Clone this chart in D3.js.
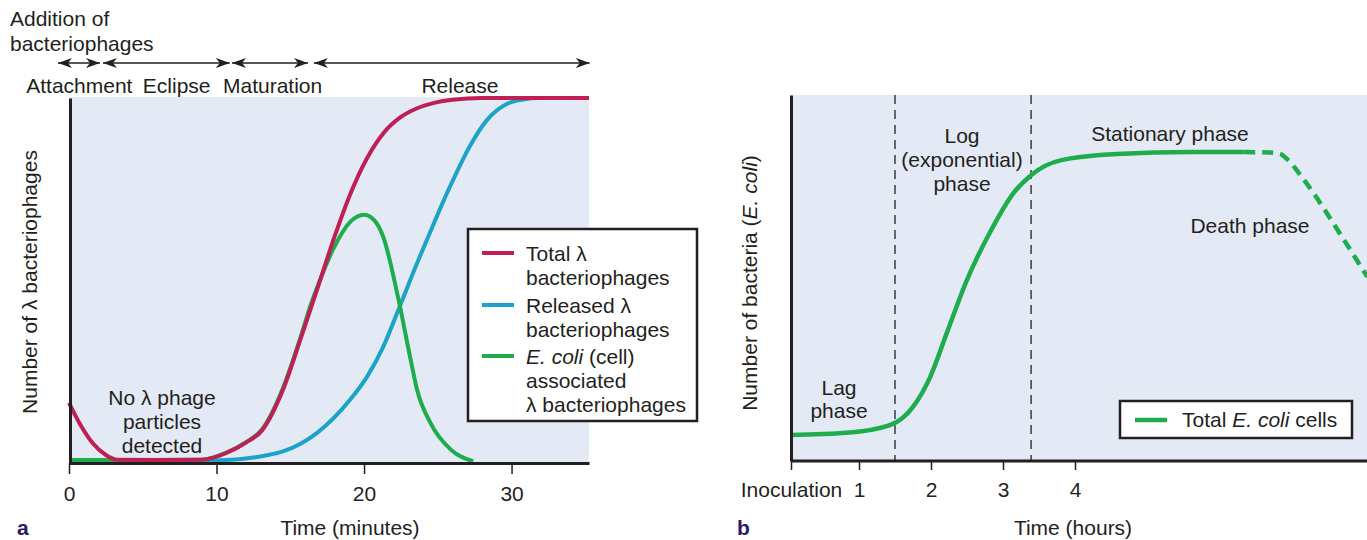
<!DOCTYPE html>
<html><head><meta charset="utf-8">
<script src="https://cdn.jsdelivr.net/npm/d3@7"></script>
<style>
body{margin:0;background:#fff;}
svg{display:block;font-family:"Liberation Sans",Arial,Helvetica,sans-serif;}
</style>
</head><body>
<svg id="c" width="1367" height="540"></svg>
<script>
// ---------- Panel a data ----------
const ticksA = [0, 10, 20, 30];
const phaseNames = ["Attachment", "Eclipse", "Maturation", "Release"];
const phaseStart = [-0.75, 2.3, 11.05, 16.6];
const phaseEnd = [2.1, 10.9, 16.2, 35.3];
const phaseLabelAt = [0.7, 7.3, 13.8, 26.5];

const totalT = [0, 0.8, 1.6, 2.5, 3.3, 6, 9, 10.7, 12, 13.1, 14.5, 15.7, 16.8, 18, 19.05, 20.2, 21.3, 22.5, 23.6, 24.7, 26, 28, 35.25];
const totalV = [16.5, 10.3, 5.5, 2.2, 0.9, 0.8, 0.9, 2.8, 5.6, 9.0, 20, 34, 47.3, 62, 73.5, 83.5, 90.3, 94.8, 97.2, 98.6, 99.5, 100, 100];

const assocT = [0, 3, 9, 10.7, 12, 13.1, 14.5, 15.7, 16.4, 17.2, 17.9, 19.05, 20.0, 20.7, 21.3, 22.3, 23.2, 23.6, 24.5, 25.9, 27.4];
const assocV = [0.8, 0.8, 0.9, 2.9, 5.7, 9.3, 20.5, 34.5, 43.5, 52, 58.5, 66, 68, 66.5, 62, 45.5, 27.5, 20, 11, 3.6, 0.5];

const releasedT = [0, 9, 10, 11.5, 12.5, 13.5, 14.5, 15.7, 16.8, 19.05, 20.2, 21.3, 22.4, 23.6, 24.3, 25.8, 27.2, 28.3, 29.7, 30.8, 31.8, 35.25];
const releasedV = [0.6, 0.6, 0.7, 1.0, 1.5, 2.2, 3.2, 5.3, 8.2, 17.3, 23.6, 31.8, 42.7, 54.8, 61.5, 75.5, 87, 93.8, 98.4, 99.6, 100, 100];

// ---------- Panel b data ----------
const ticksB = [0, 1, 2, 3, 4];
const tickLabelsB = ["Inoculation", "1", "2", "3", "4"];
const phaseLinesB = [1.5, 3.39];
const growthT = [0, 0.82, 1.43, 1.75, 1.99, 2.22, 2.5, 2.82, 3.13, 3.39, 3.81, 4.58, 5.62, 6.35];
const growthV = [7.1, 7.7, 9.8, 14.8, 23, 35, 49.5, 62.5, 72.8, 78.1, 82.2, 83.9, 84.4, 84.4];
const deathT = [6.35, 6.71, 6.85, 6.94, 7.18, 7.71, 8.06];
const deathV = [84.4, 84.3, 83.9, 82.6, 76.8, 61.2, 50.3];

// ---------- styles ----------
const INK = "#231f20";
const BG = "#e4eaf5";
const RED = "#c01f55";
const BLUE = "#1ba3c9";
const GREEN = "#1fac4d";
const FS = 21;

const svg = d3.select("#c");

// arrow marker
const defs = svg.append("defs");
function marker(id, orient) {
  defs.append("marker").attr("id", id).attr("viewBox", "0 0 14 10")
    .attr("refX", 14).attr("refY", 5).attr("markerWidth", 14).attr("markerHeight", 10)
    .attr("markerUnits", "userSpaceOnUse").attr("orient", orient)
    .append("path").attr("d", "M0,0 L14,5 L0,10 L4,5 Z").attr("fill", INK);
}
marker("arrEnd", "auto");
marker("arrStart", "auto-start-reverse");

const zip = (a, b) => a.map((v, i) => [v, b[i]]);
const txt = (g, x, y, s, anchor = "start") =>
  g.append("text").attr("x", x).attr("y", y).attr("text-anchor", anchor)
   .attr("font-size", FS).attr("fill", INK).text(s);

// ================= PANEL A =================
const xA = d3.scaleLinear().domain([0, 35.25]).range([69, 589]);
const yA = d3.scaleLinear().domain([0, 100]).range([463, 98]);

const gA = svg.append("g");
gA.append("rect").attr("x", 70).attr("y", 97).attr("width", 519).attr("height", 366).attr("fill", BG);

const lineA = d3.line().x(d => xA(d[0])).y(d => yA(d[1])).curve(d3.curveMonotoneX);

gA.append("path").datum(zip(releasedT, releasedV)).attr("d", lineA)
  .attr("fill", "none").attr("stroke", BLUE).attr("stroke-width", 4);
gA.append("path").datum(zip(assocT, assocV)).attr("d", lineA)
  .attr("fill", "none").attr("stroke", GREEN).attr("stroke-width", 4);
gA.append("path").datum(zip(totalT, totalV)).attr("d", lineA)
  .attr("fill", "none").attr("stroke", RED).attr("stroke-width", 4);

// axes a
const axA = d3.axisBottom(xA).tickValues(ticksA).tickSize(11).tickSizeOuter(0).tickPadding(12);
const gxA = gA.append("g").attr("transform", "translate(0,463)").call(axA);
gxA.select(".domain").attr("stroke", INK).attr("stroke-width", 3);
gxA.selectAll(".tick line").attr("stroke", INK).attr("stroke-width", 1.5);
gxA.selectAll(".tick text").attr("font-size", FS).attr("fill", INK).attr("font-family", "Liberation Sans, Arial, sans-serif");

const ayA = d3.axisLeft(yA).tickValues([]).tickSizeOuter(0);
const gyA = gA.append("g").attr("transform", "translate(70,0)").call(ayA);
gyA.select(".domain").attr("stroke", INK).attr("stroke-width", 3);

// phase arrows
phaseNames.forEach((name, i) => {
  gA.append("line").attr("x1", xA(phaseStart[i])).attr("x2", xA(phaseEnd[i]))
    .attr("y1", 63).attr("y2", 63).attr("stroke", INK).attr("stroke-width", 1.6)
    .attr("marker-start", "url(#arrStart)").attr("marker-end", "url(#arrEnd)");
  gA.append("text").attr("x", xA(phaseLabelAt[i])).attr("y", 93).attr("text-anchor", "middle")
    .attr("font-size", FS).attr("fill", INK).text(name);
});

txt(gA, 10, 26, "Addition of");
txt(gA, 10, 51, "bacteriophages");

txt(gA, 162, 405, "No λ phage", "middle");
txt(gA, 162, 429, "particles", "middle");
txt(gA, 162, 453, "detected", "middle");

gA.append("text").attr("transform", "translate(37,282) rotate(-90)").attr("text-anchor", "middle")
  .attr("font-size", FS).attr("fill", INK).text("Number of λ bacteriophages");

txt(gA, 350, 535, "Time (minutes)", "middle");
gA.append("text").attr("x", 17).attr("y", 535).attr("font-size", 21).attr("font-weight", "bold")
  .attr("fill", "#2a1c66").text("a");

// legend a
const lgA = gA.append("g");
lgA.append("rect").attr("x", 468).attr("y", 229).attr("width", 229).attr("height", 192)
  .attr("fill", "#fff").attr("stroke", INK).attr("stroke-width", 2.5);
const legItems = [
  {c: RED, y: 253, lines: [["Total λ"], ["bacteriophages"]]},
  {c: BLUE, y: 305, lines: [["Released λ"], ["bacteriophages"]]},
  {c: GREEN, y: 356, lines: [["E. coli", true, " (cell)"], ["associated"], ["λ bacteriophages"]]}
];
legItems.forEach(it => {
  lgA.append("line").attr("x1", 482).attr("x2", 514).attr("y1", it.y).attr("y2", it.y)
    .attr("stroke", it.c).attr("stroke-width", 4);
  it.lines.forEach((ln, j) => {
    const t = lgA.append("text").attr("x", 526).attr("y", it.y + 8 + j * 24)
      .attr("font-size", FS).attr("fill", INK);
    if (ln[1] === true) {
      t.append("tspan").attr("font-style", "italic").text(ln[0]);
      t.append("tspan").text(ln[2]);
    } else t.text(ln[0]);
  });
});

// ================= PANEL B =================
const xB = d3.scaleLinear().domain([0, 1, 4]).range([791, 859, 1075]);
const yB = d3.scaleLinear().domain([0, 100]).range([461, 95]);

const gB = svg.append("g");
gB.append("rect").attr("x", 792).attr("y", 95).attr("width", 575).attr("height", 366).attr("fill", BG);

phaseLinesB.forEach(t => {
  gB.append("line").attr("x1", xB(t)).attr("x2", xB(t)).attr("y1", 95).attr("y2", 461)
    .attr("stroke", INK).attr("stroke-width", 1.3).attr("stroke-dasharray", "9,6");
});

const lineB = d3.line().x(d => xB(d[0])).y(d => yB(d[1])).curve(d3.curveMonotoneX);
gB.append("path").datum(zip(growthT, growthV)).attr("d", lineB)
  .attr("fill", "none").attr("stroke", GREEN).attr("stroke-width", 4.5);
gB.append("path").datum(zip(deathT, deathV)).attr("d", lineB)
  .attr("fill", "none").attr("stroke", GREEN).attr("stroke-width", 4.5).attr("stroke-dasharray", "11,7");

const axB = d3.axisBottom(xB).tickValues(ticksB).tickFormat((d, i) => tickLabelsB[i])
  .tickSize(9).tickSizeOuter(0).tickPadding(12);
const gxB = gB.append("g").attr("transform", "translate(0,461)").call(axB);
gxB.select(".domain").attr("d", "M791,0H1367").attr("stroke", INK).attr("stroke-width", 3);
gxB.selectAll(".tick line").attr("stroke", INK).attr("stroke-width", 1.5);
gxB.selectAll(".tick text").attr("font-size", FS).attr("fill", INK).attr("font-family", "Liberation Sans, Arial, sans-serif");

const ayB = d3.axisLeft(yB).tickValues([]).tickSizeOuter(0);
const gyB = gB.append("g").attr("transform", "translate(791,0)").call(ayB);
gyB.select(".domain").attr("stroke", INK).attr("stroke-width", 3);

txt(gB, 839, 395, "Lag", "middle");
txt(gB, 839, 418, "phase", "middle");
txt(gB, 962, 143, "Log", "middle");
txt(gB, 962, 167, "(exponential)", "middle");
txt(gB, 962, 191, "phase", "middle");
txt(gB, 1170, 141, "Stationary phase", "middle");
txt(gB, 1250, 233, "Death phase", "middle");

const yl = gB.append("text").attr("transform", "translate(757,283) rotate(-90)").attr("text-anchor", "middle")
  .attr("font-size", FS).attr("fill", INK);
yl.append("tspan").text("Number of bacteria (");
yl.append("tspan").attr("font-style", "italic").text("E. coli");
yl.append("tspan").text(")");

txt(gB, 1073, 535, "Time (hours)", "middle");
gB.append("text").attr("x", 737).attr("y", 535).attr("font-size", 21).attr("font-weight", "bold")
  .attr("fill", "#2a1c66").text("b");

// legend b
const lgB = gB.append("g");
lgB.append("rect").attr("x", 1120).attr("y", 401).attr("width", 232).attr("height", 37)
  .attr("fill", "#fff").attr("stroke", INK).attr("stroke-width", 2.5);
lgB.append("line").attr("x1", 1135).attr("x2", 1167).attr("y1", 420).attr("y2", 420)
  .attr("stroke", GREEN).attr("stroke-width", 4.5);
const lt = lgB.append("text").attr("x", 1182).attr("y", 427).attr("font-size", FS).attr("fill", INK);
lt.append("tspan").text("Total ");
lt.append("tspan").attr("font-style", "italic").text("E. coli");
lt.append("tspan").text(" cells");
</script>
</body></html>
